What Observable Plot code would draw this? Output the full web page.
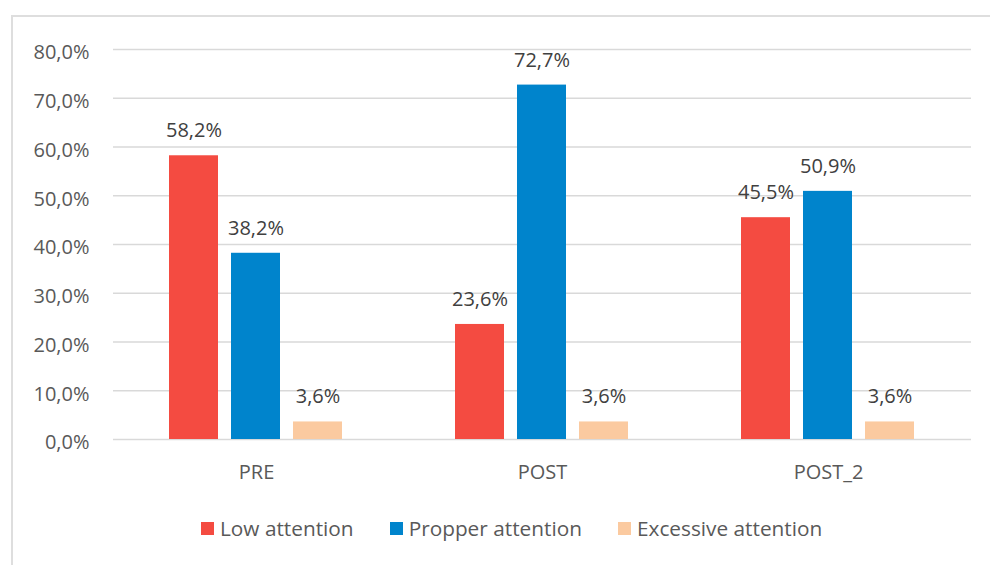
<!DOCTYPE html>
<html>
<head>
<meta charset="utf-8">
<script src="https://cdn.jsdelivr.net/npm/d3@7"></script>
<script src="https://cdn.jsdelivr.net/npm/@observablehq/plot@0.6"></script>
<style>
  html, body { margin: 0; padding: 0; background: #fff; }
  #wrap { position: relative; width: 990px; height: 565px; overflow: hidden; font-family: "Open Sans", sans-serif; }
  #frame { position: absolute; left: 11px; top: 15px; width: 1000px; height: 600px; border-left: 2px solid #dedede; border-top: 2px solid #dedede; box-sizing: border-box; }
  #chart { position: absolute; left: 0; top: 0; }
  #legend { position: absolute; left: 201px; top: 514px; display: flex; align-items: center; color: #595959; font-size: 20.8px; white-space: nowrap; }
  #legend .item { display: flex; align-items: center; margin-right: 36px; }
  #legend .sw { width: 13px; height: 13px; margin-right: 6px; }
</style>
</head>
<body>
<div id="wrap">
  <div id="frame"></div>
  <div id="chart"></div>
  <div id="legend"></div>
</div>
<script>
// Measurement phases
const phases = ["PRE", "POST", "POST_2"];
// Attention levels (series)
const levels = ["Low attention", "Propper attention", "Excessive attention"];
const levelColors = ["#f44b41", "#0084cc", "#fbcaa0"];
// Percentages per level, one value per phase
const lowAttention = [58.2, 23.6, 45.5];
const propperAttention = [38.2, 72.7, 50.9];
const excessiveAttention = [3.6, 3.6, 3.6];
// Y axis ticks (percent)
const yTicks = [0, 10, 20, 30, 40, 50, 60, 70, 80];

const seriesValues = [lowAttention, propperAttention, excessiveAttention];
const rows = [];
phases.forEach((p, i) => {
  levels.forEach((l, j) => {
    rows.push({phase: p, level: l, value: seriesValues[j][i]});
  });
});

const fmt = v => v.toFixed(1).replace(".", ",") + "%";

const chart = Plot.plot({
  width: 990,
  height: 500,
  marginLeft: 112,
  marginRight: 18,
  marginTop: 49,
  marginBottom: 61,
  style: {fontFamily: "'Open Sans', sans-serif", background: "transparent", overflow: "visible"},
  fx: {domain: phases, padding: 0, label: null},
  x: {domain: levels, paddingInner: 0.206, paddingOuter: 0.878, axis: null},
  y: {domain: [0, 80], label: null},
  color: {domain: levels, range: levelColors},
  marks: [
    Plot.gridY(yTicks, {stroke: "#d9d9d9", strokeOpacity: 1, strokeWidth: 1.5}),
    Plot.axisY(yTicks, {tickSize: 0, tickPadding: 24, tickFormat: fmt, fontSize: 20, fill: "#595959", dy: 3.5, label: null}),
    Plot.axisFx({anchor: "bottom", tickSize: 0, tickPadding: 25.5, fontSize: 20, fill: "#595959", label: null}),
    Plot.barY(rows, {fx: "phase", x: "level", y: "value", fill: "level"}),
    Plot.text(rows, {fx: "phase", x: "level", y: "value", text: d => fmt(d.value), lineAnchor: "bottom", dy: -18.5, fontSize: 20, fill: "#404040"})
  ]
});
document.getElementById("chart").appendChild(chart);

// Legend built from the same series and colours
const legend = document.getElementById("legend");
levels.forEach((l, j) => {
  const item = document.createElement("div");
  item.className = "item";
  const sw = document.createElement("span");
  sw.className = "sw";
  sw.style.background = levelColors[j];
  const label = document.createElement("span");
  label.textContent = l;
  item.appendChild(sw);
  item.appendChild(label);
  legend.appendChild(item);
});
</script>
</body>
</html>
